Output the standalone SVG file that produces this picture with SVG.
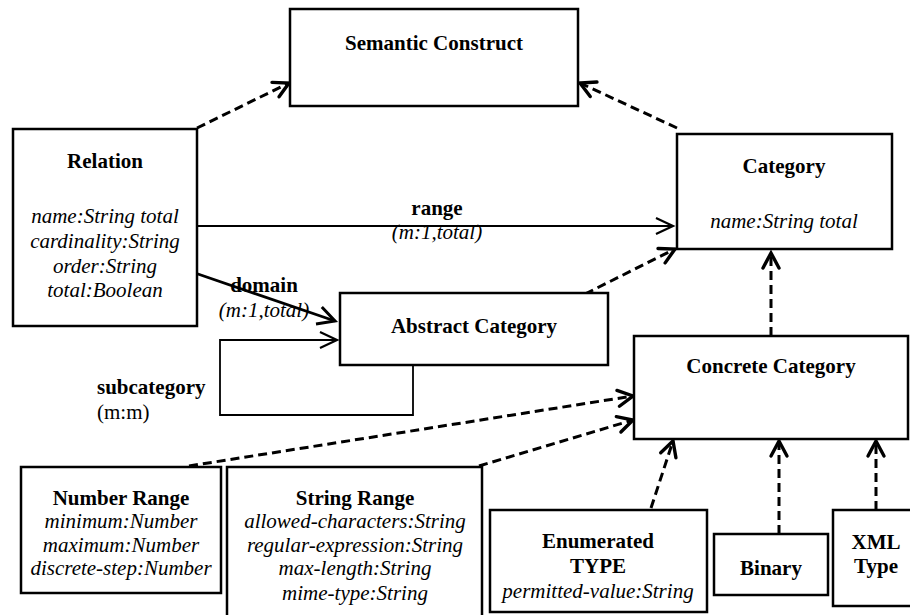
<svg xmlns="http://www.w3.org/2000/svg" width="910" height="615" viewBox="0 0 910 615">
  <style>
    .box { fill: #fff; stroke: #000; stroke-width: 2.5; }
    text { font-family: "Liberation Serif", "DejaVu Serif", serif; font-size: 21px; fill: #000; text-anchor: middle; }
    .b { font-weight: bold; }
    .i { font-style: italic; }
    .l { text-anchor: start; }
    .dash { fill: none; stroke: #000; stroke-width: 3; stroke-dasharray: 9 5; marker-end: url(#open); }
    .solid { fill: none; stroke: #000; }
  </style>
  <defs>
    <marker id="open" markerUnits="userSpaceOnUse" viewBox="-18 -10 22 20" refX="0" refY="0" markerWidth="22" markerHeight="20" orient="auto" overflow="visible">
      <path d="M-15,-8 L0,0 L-15,8" fill="none" stroke="#000" stroke-width="3.4" stroke-linecap="round" stroke-linejoin="miter"/>
    </marker>
    <marker id="thin" markerUnits="userSpaceOnUse" viewBox="-20 -10 24 20" refX="0" refY="0" markerWidth="24" markerHeight="20" orient="auto" overflow="visible">
      <path d="M-17,-8 L0,0 L-17,8" fill="none" stroke="#000" stroke-width="2.2"/>
    </marker>
    <marker id="thick" markerUnits="userSpaceOnUse" viewBox="-20 -12 24 24" refX="0" refY="0" markerWidth="24" markerHeight="24" orient="auto" overflow="visible">
      <path d="M-17,-9 L0,0 L-17,9" fill="none" stroke="#000" stroke-width="3"/>
    </marker>
  </defs>

  <!-- connectors -->
  <g id="connectors">
    <path class="dash" d="M197,128 L289,83"/>
    <path class="dash" d="M677,128 L580,83"/>
    <path class="dash" d="M585,294 L675,249"/>
    <path class="dash" d="M771,336 L771,253"/>
    <path class="dash" d="M189,466 L633,396"/>
    <path class="dash" d="M479,466 L633,420"/>
    <path class="dash" d="M651,508 L673,441"/>
    <path class="dash" d="M779,534 L779,441"/>
    <path class="dash" d="M876,510 L876,441"/>
    <!-- range association -->
    <path class="solid" stroke-width="1.8" marker-end="url(#thin)" d="M197,226 L673,226"/>
    <!-- domain association -->
    <path class="solid" stroke-width="2.8" marker-end="url(#thick)" d="M195,273 L335,321"/>
    <!-- subcategory self association -->
    <path class="solid" stroke-width="1.8" marker-end="url(#thin)" d="M413,365 L413,415 L220,415 L220,340 L337,340"/>
    <text class="b" x="437" y="215">range</text>
    <text class="i" x="437" y="239">(m:1,total)</text>
    <text class="b" x="264" y="292">domain</text>
    <text class="i" x="264" y="317">(m:1,total)</text>
    <text class="b l" x="97" y="394">subcategory</text>
    <text class="l" x="97" y="419">(m:m)</text>
  </g>

  <g id="semantic-construct">
    <rect class="box" x="290" y="9" width="288" height="97"/>
    <text class="b" x="434" y="50">Semantic Construct</text>
  </g>

  <g id="relation">
    <rect class="box" x="13" y="129" width="184" height="197"/>
    <text class="b" x="105" y="168">Relation</text>
    <text class="i" x="105" y="223">name:String total</text>
    <text class="i" x="105" y="248">cardinality:String</text>
    <text class="i" x="105" y="273">order:String</text>
    <text class="i" x="105" y="297">total:Boolean</text>
  </g>

  <g id="category">
    <rect class="box" x="677" y="134" width="215" height="115"/>
    <text class="b" x="784" y="173">Category</text>
    <text class="i" x="784" y="228">name:String total</text>
  </g>

  <g id="abstract-category">
    <rect class="box" x="340" y="293" width="268" height="72"/>
    <text class="b" x="474" y="333">Abstract Category</text>
  </g>

  <g id="concrete-category">
    <rect class="box" x="634" y="336" width="274" height="103"/>
    <text class="b" x="771" y="373">Concrete Category</text>
  </g>

  <g id="number-range">
    <rect class="box" x="21" y="467" width="200" height="126"/>
    <text class="b" x="121" y="505">Number Range</text>
    <text class="i" x="121" y="528">minimum:Number</text>
    <text class="i" x="121" y="552">maximum:Number</text>
    <text class="i" x="121" y="575">discrete-step:Number</text>
  </g>

  <g id="string-range">
    <rect class="box" x="227" y="467" width="255" height="152"/>
    <text class="b" x="355" y="505">String Range</text>
    <text class="i" x="355" y="528">allowed-characters:String</text>
    <text class="i" x="355" y="552">regular-expression:String</text>
    <text class="i" x="355" y="575">max-length:String</text>
    <text class="i" x="355" y="600">mime-type:String</text>
  </g>

  <g id="enumerated-type">
    <rect class="box" x="490" y="510" width="217" height="102"/>
    <text class="b" x="598" y="548">Enumerated</text>
    <text class="b" x="598" y="573">TYPE</text>
    <text class="i" x="598" y="598">permitted-value:String</text>
  </g>

  <g id="binary">
    <rect class="box" x="714" y="534" width="114" height="61"/>
    <text class="b" x="771" y="575">Binary</text>
  </g>

  <g id="xml-type">
    <rect class="box" x="833" y="510" width="80" height="96"/>
    <text class="b" x="876" y="549">XML</text>
    <text class="b" x="876" y="573">Type</text>
  </g>
</svg>
